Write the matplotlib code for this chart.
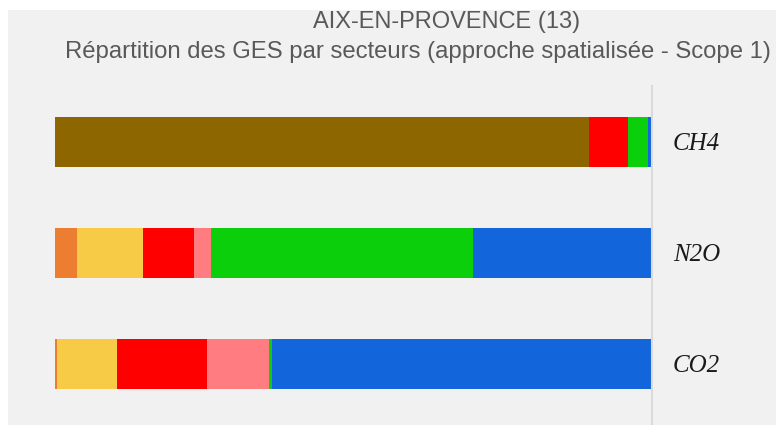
import numpy as np
import matplotlib.pyplot as plt
from matplotlib.patches import Rectangle

# gases, top to bottom
gases = ["CH4", "N2O", "CO2"]

# sector shares (%) per gas (stacking order left -> right)
sectors = ["Déchets", "Résidentiel", "Tertiaire", "Transport routier",
           "Autres transports", "Agriculture", "Industrie", "Énergie"]
dechets = [89.5, 0.0, 0.0]
residentiel = [0.0, 3.7, 0.3]
tertiaire = [0.0, 11.1, 10.1]
transport_routier = [6.4, 8.4, 15.1]
autres_transports = [0.0, 3.0, 10.4]
agriculture = [3.4, 43.9, 0.5]
industrie = [0.7, 29.9, 63.5]
energie = [0.0, 0.0, 0.1]

colors = ["#8E6600", "#ED7D31", "#F7CB45", "#FF0000", "#FF7C80",
          "#0CCF0C", "#1265DB", "#E060E0"]

series = [dechets, residentiel, tertiaire, transport_routier, autres_transports,
          agriculture, industrie, energie]

W, H = 776, 425
fig = plt.figure(figsize=(W / 100, H / 100), dpi=100, facecolor="white")
# grey panel (white margin at top/left like the screenshot)
fig.patches.append(Rectangle((8 / W, 0), 1, 1 - 10 / H, transform=fig.transFigure,
                             facecolor="#f1f1f1", edgecolor="none", zorder=-10))

ax = fig.add_axes([55 / W, 0, 597 / W, (H - 86) / H])
ax.set_facecolor("none")

y = np.arange(len(gases))
left = np.zeros(len(gases))
for name, vals, c in zip(sectors, series, colors):
    vals = np.array(vals)
    ax.barh(y, vals, left=left, height=0.45, color=c, label=name)
    left += vals

ax.set_xlim(0, 100)
ax.set_ylim(2.55, -0.5)
for s in ["top", "left", "bottom"]:
    ax.spines[s].set_visible(False)
ax.spines["right"].set_color("#dadada")
ax.spines["right"].set_linewidth(1.5)
ax.set_xticks([])
ax.yaxis.tick_right()
ax.set_yticks(y, gases)
ax.tick_params(axis="y", length=0, pad=15)
for lab in ax.get_yticklabels():
    lab.set_fontfamily("Liberation Serif")
    lab.set_fontstyle("italic")
    lab.set_fontsize(18)
    lab.set_color("#1a1a1a")

fig.text(447 / W, 1 - 22 / H, "AIX-EN-PROVENCE (13)", ha="center", va="center",
         fontsize=17, color="#595959", family="Liberation Sans")
fig.text(418 / W, 1 - 52 / H,
         "Répartition des GES par secteurs (approche spatialisée - Scope 1)",
         ha="center", va="center", fontsize=17.2, color="#595959",
         family="Liberation Sans")

fig.savefig("out.png", dpi=100, facecolor=fig.get_facecolor())
